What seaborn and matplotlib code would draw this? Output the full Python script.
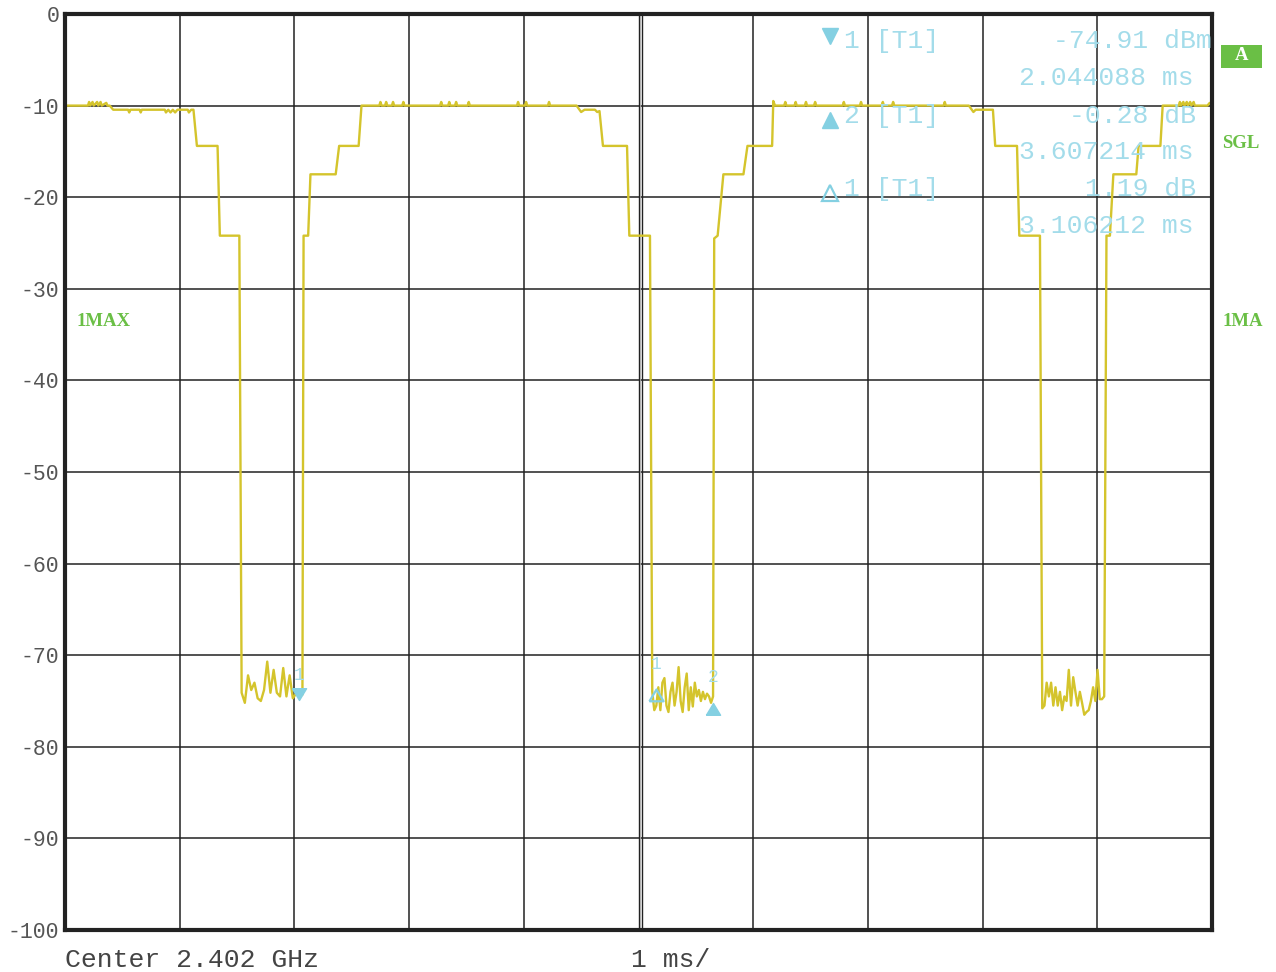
import numpy as np
import pandas as pd
import seaborn as sns
import matplotlib.pyplot as plt
from matplotlib.patches import Rectangle

# step parts of the trace (time in ms, level in dBm)
seg1_ms = [0.00, 0.20, 0.21, 0.22, 0.24, 0.25, 0.28, 0.29, 0.31, 0.32, 0.36, 0.37, 0.39, 0.42,
           0.55, 0.56, 0.57, 0.65, 0.66, 0.67, 0.87, 0.88, 0.90, 0.92, 0.94, 0.96, 0.98,
           1.07, 1.08, 1.10, 1.12, 1.15, 1.33, 1.35, 1.52]
seg1_db = [-10.0, -10.0, -9.6, -10.0, -9.6, -10.0, -9.6, -10.0, -9.6, -10.0, -9.7, -10.0, -10.0, -10.45,
           -10.45, -10.75, -10.45, -10.45, -10.75, -10.45, -10.45, -10.75, -10.45, -10.75, -10.45, -10.75, -10.45,
           -10.45, -10.75, -10.45, -10.45, -14.4, -14.4, -24.2, -24.2]

seg2_ms = [2.08, 2.12, 2.14, 2.36, 2.39, 2.56, 2.585, 2.74, 2.75, 2.76, 2.79, 2.80, 2.81, 2.85, 2.86, 2.87,
           2.94, 2.95, 2.96, 3.27, 3.28, 3.29, 3.34, 3.35, 3.36, 3.40, 3.41, 3.42, 3.51, 3.52, 3.53,
           3.94, 3.95, 3.96, 4.01, 4.02, 4.03, 4.21, 4.22, 4.23, 4.46, 4.50, 4.53, 4.62, 4.64, 4.66,
           4.69, 4.90, 4.92, 5.10]
seg2_db = [-24.2, -24.2, -17.5, -17.5, -14.4, -14.4, -10.0, -10.0, -9.6, -10.0, -10.0, -9.6, -10.0, -10.0, -9.6, -10.0,
           -10.0, -9.6, -10.0, -10.0, -9.6, -10.0, -10.0, -9.6, -10.0, -10.0, -9.6, -10.0, -10.0, -9.6, -10.0,
           -10.0, -9.6, -10.0, -10.0, -9.6, -10.0, -10.0, -9.6, -10.0, -10.0, -10.7, -10.45, -10.45, -10.7, -10.6,
           -14.4, -14.4, -24.2, -24.2]

seg3_ms = [5.66, 5.69, 5.74, 5.915, 5.95, 6.165, 6.175, 6.19, 6.27, 6.28, 6.29, 6.36, 6.37, 6.38,
           6.45, 6.46, 6.47, 6.53, 6.54, 6.55, 6.78, 6.79, 6.80, 6.93, 6.94, 6.95, 7.12, 7.13, 7.14,
           7.21, 7.22, 7.23, 7.66, 7.67, 7.68, 7.88, 7.92, 7.94, 8.09, 8.11, 8.30, 8.32, 8.50]
seg3_db = [-24.5, -24.2, -17.5, -17.5, -14.4, -14.4, -9.5, -10.0, -10.0, -9.6, -10.0, -10.0, -9.6, -10.0,
           -10.0, -9.6, -10.0, -10.0, -9.6, -10.0, -10.0, -9.6, -10.0, -10.0, -9.6, -10.0, -10.0, -9.6, -10.0,
           -10.0, -9.6, -10.0, -10.0, -9.6, -10.0, -10.0, -10.7, -10.45, -10.45, -14.4, -14.4, -24.2, -24.2]

seg4_ms = [9.08, 9.11, 9.14, 9.34, 9.36, 9.55, 9.57, 9.71, 9.72, 9.73, 9.75, 9.76, 9.78, 9.79,
           9.81, 9.82, 9.84, 9.85, 9.96, 9.98, 10.0]
seg4_db = [-24.2, -24.2, -17.5, -17.5, -14.4, -14.4, -10.0, -10.0, -9.6, -10.0, -9.6, -10.0, -9.6, -10.0,
           -9.6, -10.0, -9.6, -10.0, -10.0, -9.7, -10.0]

# noise floor in the three gaps: (start ms, end ms) and read levels
gap1_span = (1.54, 2.07)
gap1_db = [-74.1, -75.2, -72.2, -73.8, -73.0, -74.7, -75.0, -73.8, -70.7, -74.1, -71.6,
           -74.1, -74.5, -71.4, -74.5, -72.2, -74.7, -74.2, -74.5, -74.3]
gap2_span = (5.12, 5.65)
gap2_db = [-74.0, -76.0, -75.5, -73.5, -76.0, -73.0, -72.5, -75.5, -76.2, -74.0, -73.0, -75.5,
           -74.0, -71.3, -75.0, -76.2, -73.5, -72.0, -76.0, -73.5, -75.6, -73.0, -74.5, -73.8,
           -75.0, -74.0, -74.8, -74.2, -74.5, -75.2, -74.5]
gap3_span = (8.52, 9.06)
gap3_db = [-75.8, -75.5, -73.0, -74.5, -73.0, -75.5, -73.5, -75.5, -74.0, -76.0, -74.5, -75.0,
           -71.6, -75.5, -72.4, -74.0, -75.5, -74.0, -75.2, -76.5, -76.2, -76.0, -75.0, -73.5,
           -75.0, -71.6, -74.8, -74.8, -74.5]

# markers
mk1_ms, mk1_db = 2.044088, -74.91
mk2_ms, mk2_db = 2.044088 + 3.607214, -74.91 - 0.28
dl1_ms, dl1_db = 2.044088 + 3.106212, -74.91 + 1.19

info_lines = [("1 [T1]", "-74.91 dBm", "2.044088 ms"),
              ("2 [T1]", "-0.28 dB", "3.607214 ms"),
              ("1 [T1]", "1.19 dB", "3.106212 ms")]
y_ticks = list(range(0, -101, -10))

ms, db = [], []
for seg_t, seg_v, gap, gap_v in [(seg1_ms, seg1_db, gap1_span, gap1_db),
                                 (seg2_ms, seg2_db, gap2_span, gap2_db),
                                 (seg3_ms, seg3_db, gap3_span, gap3_db),
                                 (seg4_ms, seg4_db, None, None)]:
    ms += seg_t
    db += seg_v
    if gap is not None:
        ms += list(np.linspace(gap[0], gap[1], len(gap_v)))
        db += gap_v
trace = pd.DataFrame({"ms": ms, "dB": db})

W, H = 1276, 972
sns.set_style("white")
plt.rcParams["font.family"] = ["Liberation Mono", "DejaVu Sans"]

fig = plt.figure(figsize=(W / 100, H / 100), dpi=100)
ax = fig.add_axes([65 / W, 1 - 930 / H, 1147 / W, 916 / H])

TRACE = "#d4c42c"
MK = "#84d0e2"
MKTXT = "#a3dcea"
GREEN = "#6abf45"
GRID = "#222222"
SERIF = ["Liberation Serif", "DejaVu Serif"]

for v in range(1, 10):
    if v != 5:
        ax.axvline(v, color=GRID, lw=1.1, zorder=1)
for h in y_ticks[1:-1]:
    ax.axhline(h, color=GRID, lw=1.1, zorder=1)
# the centre line is drawn doubled
ax.axvline(5.003, color=GRID, lw=1.0, zorder=1)
ax.axvline(5.015, color="#aaaaaa", lw=0.6, zorder=1)
ax.axvline(5.027, color=GRID, lw=1.0, zorder=1)

sns.lineplot(data=trace, x="ms", y="dB", sort=False, estimator=None,
             color=TRACE, lw=1.7, ax=ax, zorder=3)

ax.set_xlim(0, 10)
ax.set_ylim(-100, 0)
ax.set_xticks([])
ax.set_yticks(y_ticks)
ax.set_yticklabels([str(t) for t in y_ticks], fontsize=15.5, color="#555555")
ax.tick_params(axis="y", length=0, pad=4)
ax.set_xlabel("")
ax.set_ylabel("")
for s in ax.spines.values():
    s.set_visible(True)
    s.set_color(GRID)
    s.set_linewidth(3)
    s.set_zorder(5)

# triangle paths with the tip at the data point
tri_down = [(-0.6, 1.0), (0.6, 1.0), (0.0, 0.0), (-0.6, 1.0)]
tri_up = [(-0.6, -1.0), (0.6, -1.0), (0.0, 0.0), (-0.6, -1.0)]

ax.plot([mk1_ms], [mk1_db], marker=tri_down, ms=17, color=MK, mec=MK, ls="none", zorder=6, clip_on=False)
ax.plot([mk2_ms], [mk2_db], marker=tri_up, ms=17, color=MK, mec=MK, ls="none", zorder=6, clip_on=False)
ax.plot([dl1_ms], [dl1_db], marker=tri_up, ms=17, mfc="none", mec=MK, mew=1.6, ls="none", zorder=6, clip_on=False)
for t, v, lab in [(mk1_ms, mk1_db, "1"), (dl1_ms, dl1_db, "1"), (mk2_ms, mk2_db, "2")]:
    ax.annotate(lab, (t, v), xytext=(0, 18), textcoords="offset points",
                ha="center", va="center", fontsize=13, color=MKTXT, zorder=6)

# marker readout block
rows_y = [(41, 78), (116, 152), (189, 226)]
for (name, lvl, tm), (ya, yb) in zip(info_lines, rows_y):
    fig.text(844 / W, 1 - ya / H, name, fontsize=19, color=MKTXT, ha="left", va="center")
    right = 1212 if lvl.endswith("dBm") else 1196
    fig.text(right / W, 1 - ya / H, lvl, fontsize=19, color=MKTXT, ha="right", va="center")
    fig.text(1194 / W, 1 - yb / H, tm, fontsize=19, color=MKTXT, ha="right", va="center")

fig.add_artist(plt.Line2D([830 / W], [1 - 36 / H], marker="v", ms=11, color=MK, ls="none"))
fig.add_artist(plt.Line2D([830 / W], [1 - 120 / H], marker="^", ms=11, color=MK, ls="none"))
fig.add_artist(plt.Line2D([830 / W], [1 - 193 / H], marker="^", ms=11, mfc="none", mec=MK, mew=1.6, ls="none"))

# side labels
fig.add_artist(Rectangle((1221 / W, 1 - 68 / H), 41 / W, 23 / H, transform=fig.transFigure,
                         facecolor=GREEN, edgecolor="none"))
fig.text(1241.5 / W, 1 - 55 / H, "A", fontsize=13.5, fontweight="bold", family=SERIF,
         color="white", ha="center", va="center")
fig.text(1222 / W, 1 - 144 / H, "SGL", fontsize=13.5, fontweight="bold", family=SERIF,
         color=GREEN, ha="left", va="center")
fig.text(1222 / W, 1 - 322 / H, "1MA", fontsize=13.5, fontweight="bold", family=SERIF,
         color=GREEN, ha="left", va="center")
fig.text(77 / W, 1 - 322 / H, "1MAX", fontsize=13.5, fontweight="bold", family=SERIF,
         color=GREEN, ha="left", va="center")

fig.text(65 / W, 1 - 960 / H, "Center 2.402 GHz", fontsize=19, color="#444444", ha="left", va="center")
fig.text(631 / W, 1 - 960 / H, "1 ms/", fontsize=19, color="#444444", ha="left", va="center")

fig.savefig("out.png", dpi=100, facecolor="white")
